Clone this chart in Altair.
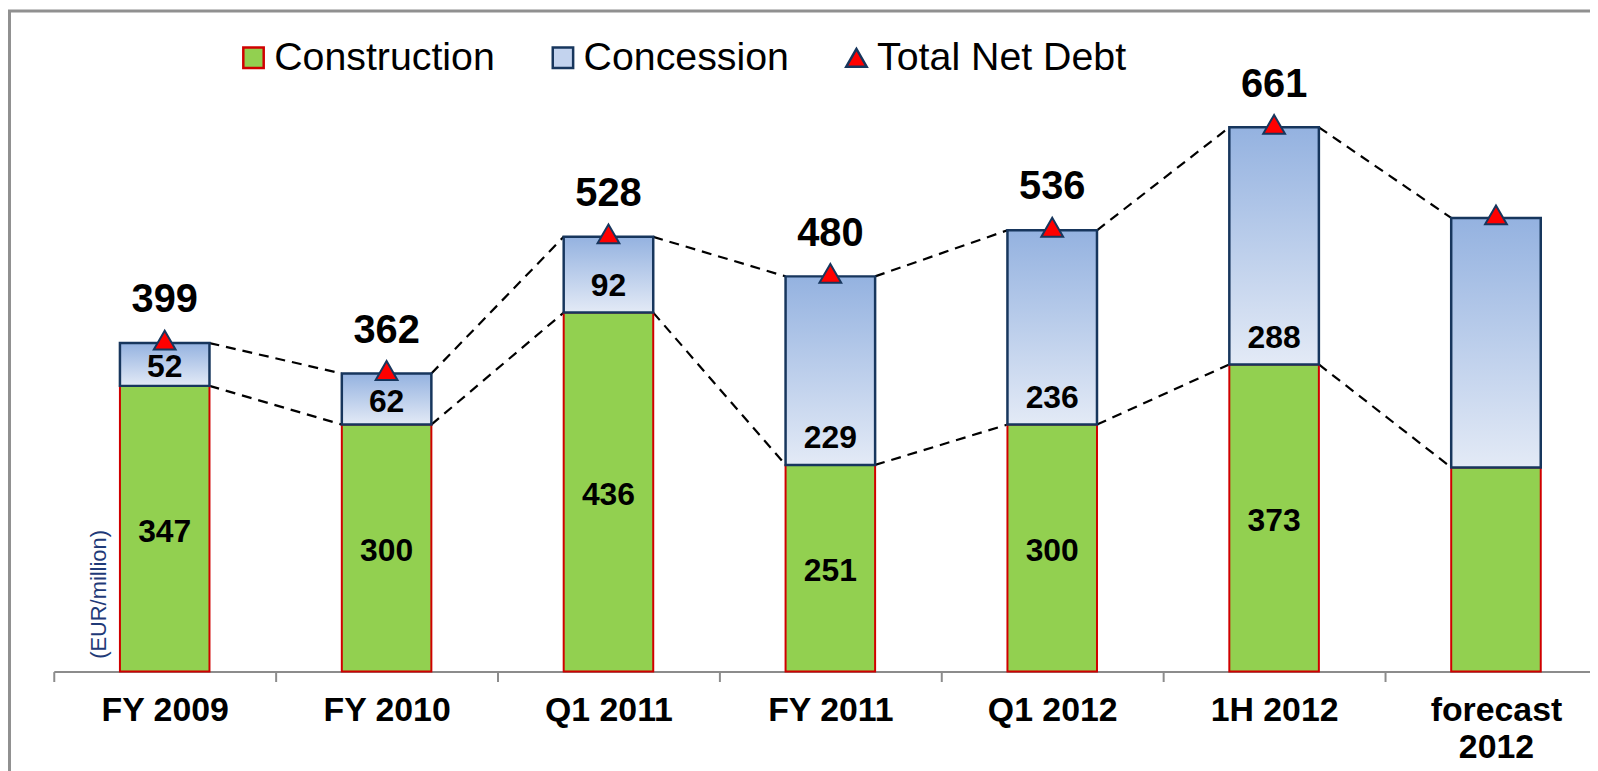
import altair as alt
import pandas as pd

# ---- data ----
categories = ["FY 2009", "FY 2010", "Q1 2011", "FY 2011", "Q1 2012", "1H 2012", "forecast 2012"]
construction = [347, 300, 436, 251, 300, 373, 248]
concession = [52, 62, 92, 229, 236, 288, 303]
total_net_debt = [399, 362, 528, 480, 536, 661, 551]
labelled = [True, True, True, True, True, True, False]
series_names = ["Construction", "Concession", "Total Net Debt"]

df = pd.DataFrame({
    "category": categories,
    "construction": construction,
    "concession": concession,
    "total": total_net_debt,
    "labelled": labelled,
})

seg_rows = []
for i in range(len(categories) - 1):
    seg_rows.append({"x_from": categories[i], "x_to": categories[i + 1],
                     "y_from": total_net_debt[i], "y_to": total_net_debt[i + 1]})
    seg_rows.append({"x_from": categories[i], "x_to": categories[i + 1],
                     "y_from": construction[i], "y_to": construction[i + 1]})
seg_df = pd.DataFrame(seg_rows)

FONT = "Liberation Sans"
GREEN = "#92d050"
RED_EDGE = "#d00000"
NAVY = "#17365d"
GRAY = "#8c8c8c"

x_scale = alt.Scale(domain=categories, range=[0, 1561], paddingInner=0, paddingOuter=0)
y_scale = alt.Scale(domain=[0, 800], nice=False, zero=True)

x_axis = alt.Axis(
    title=None, tickBand="extent", tickSize=10, tickColor=GRAY, tickWidth=2,
    domainColor=GRAY, domainWidth=2, labelFont=FONT, labelFontSize=34,
    labelFontWeight="bold", labelColor="black", labelPadding=12, labelAngle=0,
    labelLineHeight=37, grid=False, labelLimit=400,
    labelExpr="datum.label == 'forecast 2012' ? ['forecast', '2012'] : datum.label",
)
y_axis = alt.Axis(
    title="(EUR/million)", domain=False, ticks=False, labels=False, grid=False,
    titleFont=FONT, titleFontSize=22, titleFontWeight="normal", titleColor="#1f3a78",
    titleAngle=270, titleX=45, titleY=584, titleAlign="center", titleBaseline="middle",
)

X = alt.X("category:N", sort=categories, scale=x_scale, axis=x_axis)


def Y(field):
    return alt.Y(field, scale=y_scale, axis=y_axis)


base = alt.Chart(df)

construction_bars = base.mark_bar(
    size=90, fill=GREEN, stroke=RED_EDGE, strokeWidth=2
).encode(
    x=X,
    y=Y("construction:Q"),
)

blue_grad = alt.Gradient(
    gradient="linear",
    stops=[alt.GradientStop(offset=0, color="#94b2e0"),
           alt.GradientStop(offset=1, color="#e3eaf6")],
    x1=0, x2=0, y1=0, y2=1,
)
concession_bars = base.mark_bar(
    size=90, fill=blue_grad, stroke=NAVY, strokeWidth=2.5
).encode(
    x=X,
    y=Y("total:Q"),
    y2="construction:Q",
)

dash_lines = alt.Chart(seg_df).mark_rule(
    color="black", strokeWidth=2.2, strokeDash=[10, 7], xOffset=45, x2Offset=-45
).encode(
    x=alt.X("x_from:N", sort=categories, scale=x_scale, axis=x_axis),
    x2="x_to:N",
    y=Y("y_from:Q"),
    y2="y_to:Q",
)

legend_kw = dict(
    title=None, orient="none", legendX=181, legendY=25, direction="horizontal",
    labelFont=FONT, labelFontSize=39.5, labelColor="black", labelOffset=1,
    symbolSize=420, symbolStrokeWidth=2.5, symbolOpacity=1, columnPadding=48,
    labelLimit=500, padding=0,
)
triangles = base.transform_calculate(series="'Total Net Debt'").mark_point(
    filled=True, size=480, strokeWidth=2, opacity=1, yOffset=-3
).encode(
    x=X,
    y=Y("total:Q"),
    fill=alt.Fill("series:N", scale=alt.Scale(domain=series_names,
                  range=[GREEN, "#c3d3ee", "#ff0000"]), legend=alt.Legend(**legend_kw)),
    stroke=alt.Stroke("series:N", scale=alt.Scale(domain=series_names,
                      range=[RED_EDGE, NAVY, NAVY]), legend=alt.Legend(**legend_kw)),
    shape=alt.Shape("series:N", scale=alt.Scale(domain=series_names,
                    range=["square", "square", "triangle-up"]), legend=alt.Legend(**legend_kw)),
)

labelled_base = base.transform_filter("datum.labelled")

construction_labels = labelled_base.transform_calculate(
    mid="datum.construction / 2"
).mark_text(
    font=FONT, fontSize=32, fontWeight="bold", color="black", baseline="middle", dy=3
).encode(
    x=X,
    y=Y("mid:Q"),
    text="construction:Q",
)

concession_labels = labelled_base.transform_calculate(
    pos="datum.construction + min(datum.concession / 2, 36)"
).mark_text(
    font=FONT, fontSize=32, fontWeight="bold", color="black", baseline="middle", dy=3
).encode(
    x=X,
    y=Y("pos:Q"),
    text="concession:Q",
)

total_labels = labelled_base.mark_text(
    font=FONT, fontSize=40, fontWeight="bold", color="black", baseline="alphabetic", dy=-31
).encode(
    x=X,
    y=Y("total:Q"),
    text="total:Q",
)

frame = alt.Chart(alt.Data(values=[{}])).mark_rect(
    filled=False, stroke="#909090", strokeWidth=3
).encode(
    x=alt.value(-44.5), x2=alt.value(3000), y=alt.value(-2), y2=alt.value(3000)
)

chart = alt.layer(
    frame, dash_lines, construction_bars, concession_bars, triangles,
    construction_labels, concession_labels, total_labels,
).properties(
    width=1544, height=662,
    autosize=alt.AutoSizeParams(type="none"),
    padding={"left": 46, "top": 3, "right": 0, "bottom": 98},
    background="white",
).configure_view(stroke=None)

chart.save("out.html", embed_options={"renderer": "svg", "actions": False})
